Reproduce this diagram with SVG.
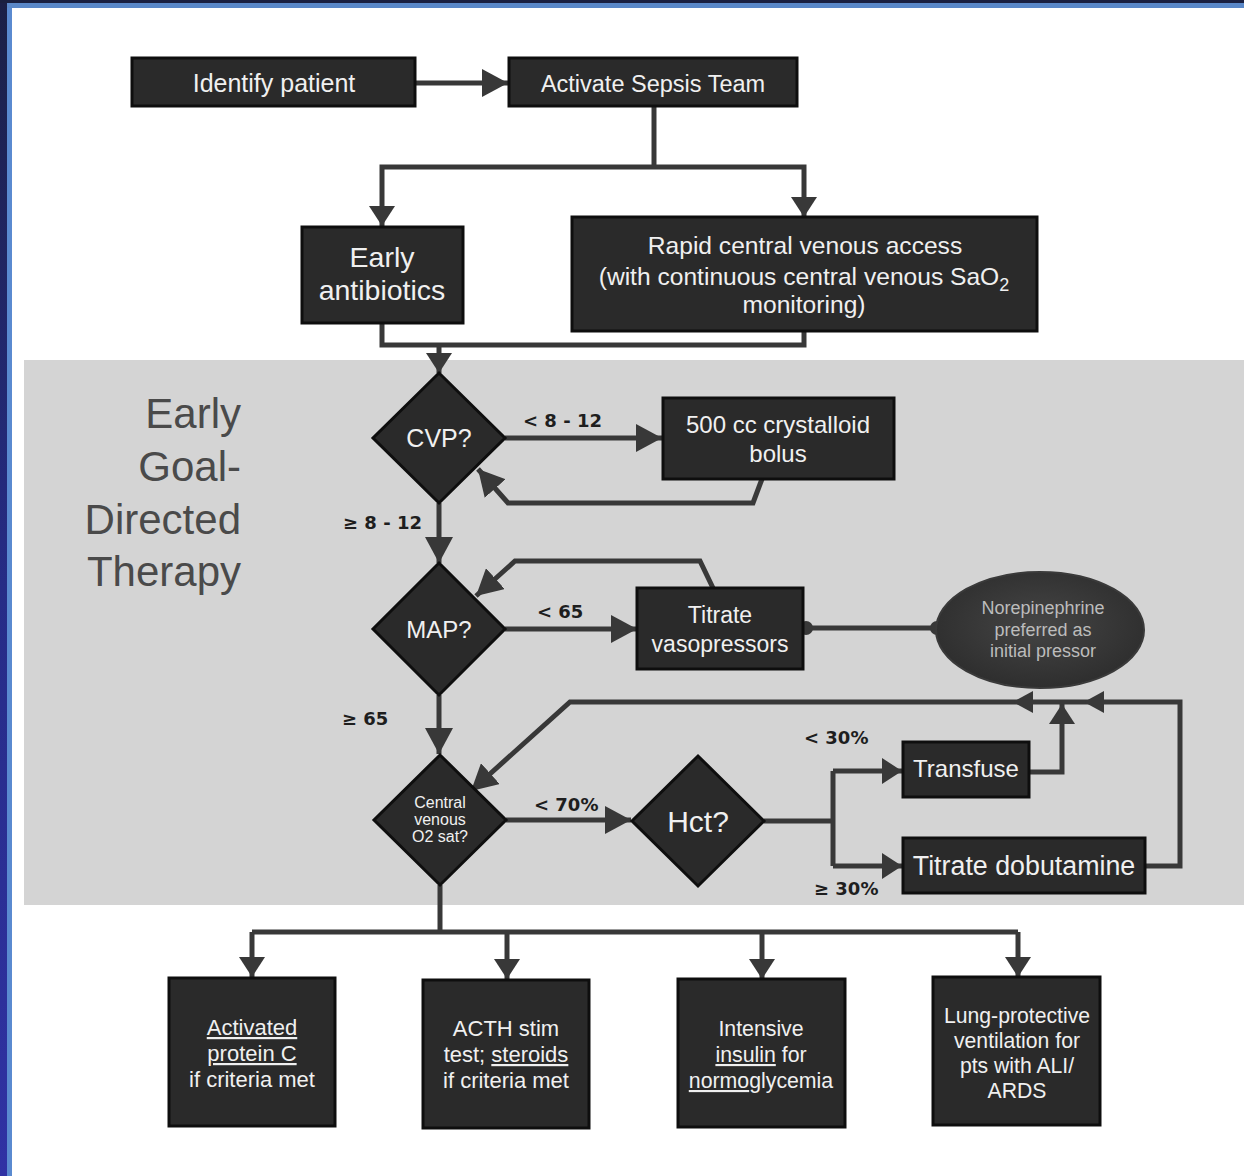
<svg xmlns="http://www.w3.org/2000/svg" width="1244" height="1176" viewBox="0 0 1244 1176">
  <defs>
    <linearGradient id="leftband" x1="0" y1="0" x2="0" y2="1">
      <stop offset="0" stop-color="#1b2046"/>
      <stop offset="0.5" stop-color="#262c86"/>
      <stop offset="1" stop-color="#3032a4"/>
    </linearGradient>
    <radialGradient id="ellfill" cx="0.5" cy="0.45" r="0.6">
      <stop offset="0" stop-color="#454545"/>
      <stop offset="1" stop-color="#2c2c2c"/>
    </radialGradient>
    <marker id="ah" markerUnits="userSpaceOnUse" markerWidth="28" markerHeight="28" viewBox="0 0 28 28" refX="26" refY="14" orient="auto">
      <path d="M0,0 L26,14 L0,28 z" fill="#383838"/>
    </marker>
    <marker id="ah2" markerUnits="userSpaceOnUse" markerWidth="28" markerHeight="28" viewBox="0 0 28 28" refX="20" refY="14" orient="auto">
      <path d="M0,1 L20,14 L0,27 z" fill="#383838"/>
    </marker>
    <style>
      .box { fill:#2a2a2a; stroke:#0e0e0e; stroke-width:3; }
      .dia { fill:#2a2a2a; stroke:#0e0e0e; stroke-width:3; }
      .t { font-family:"Liberation Sans", Arial, sans-serif; fill:#f0f0f0; text-anchor:middle; }
      .lbl { font-family:"DejaVu Sans", Verdana, sans-serif; font-weight:bold; fill:#1e1e1e; font-size:18px; }
      .conn { fill:none; stroke:#383838; stroke-width:5; stroke-linejoin:miter; }
      .arr { marker-end:url(#ah); }
      .arr2 { marker-end:url(#ah2); }
      .head { fill:#383838; }
      .side { font-family:"Liberation Sans", Arial, sans-serif; fill:#4a4a4a; font-size:42px; text-anchor:end; }
      .u { text-decoration:underline; }
      .ell { fill:#bcbcbc; }
    </style>
  </defs>

  <!-- background and frame -->
  <rect x="0" y="0" width="1244" height="1176" fill="#ffffff"/>
  <rect x="24" y="360" width="1220" height="545" fill="#d4d4d4"/>
  <rect x="0" y="0" width="7" height="1176" fill="url(#leftband)"/>
  <rect x="7" y="3" width="5" height="1173" fill="#5a8ad0"/>
  <rect x="0" y="0" width="1244" height="3" fill="#1a2040"/>
  <rect x="7" y="3" width="1237" height="5" fill="#5a88c8"/>

  <!-- side title -->
  <g id="title">
    <text class="side" x="241" y="428">Early</text>
    <text class="side" x="241" y="481">Goal-</text>
    <text class="side" x="241" y="534">Directed</text>
    <text class="side" x="241" y="586">Therapy</text>
  </g>

  <!-- connectors -->
  <g id="connectors">
    <path class="conn arr" d="M415,83 H508"/>
    <path class="conn" d="M654,106 V167"/>
    <path class="conn arr2" d="M654,167 H382 V226"/>
    <path class="conn arr2" d="M654,167 H804 V217"/>
    <path class="conn" d="M382,323 V345 H804 V332"/>
    <path class="conn arr2" d="M439,345 V373"/>
    <path class="conn arr" d="M505,438 H662"/>
    <path class="conn arr" d="M762,479 L753,503 H508 L478,469"/>
    <path class="conn arr" d="M439,503 V563"/>
    <path class="conn arr" d="M505,629 H637"/>
    <path class="conn arr" d="M713,588 L700,561 H515 L476,596"/>
    <path class="conn" d="M803,628 H937"/>
    <circle class="head" cx="806" cy="628" r="7"/>
    <circle class="head" cx="937" cy="628" r="7"/>
    <path class="conn arr" d="M439,695 V754"/>
    <path class="conn arr" d="M506,820 H631"/>
    <path class="conn" d="M764,821 H833"/>
    <path class="conn" d="M833,771 V866"/>
    <path class="conn arr2" d="M833,771 H902"/>
    <path class="conn arr2" d="M833,866 H902"/>
    <path class="conn arr2" d="M1029,772 H1062 V704"/>
    <path class="conn arr" d="M1145,866 H1180 V702 H570 L471,791"/>
    <path class="head" d="M1084,702 L1104,691 L1104,713 z"/>
    <path class="head" d="M1013,702 L1033,691 L1033,713 z"/>
    <path class="conn" d="M440,885 V932"/>
    <path class="conn" d="M252,932 H1018"/>
    <path class="conn arr2" d="M252,932 V977"/>
    <path class="conn arr2" d="M507,932 V979"/>
    <path class="conn arr2" d="M762,932 V979"/>
    <path class="conn arr2" d="M1018,932 V977"/>
  </g>

  <!-- nodes -->
  <g id="identify">
    <rect class="box" x="132" y="58" width="283" height="48"/>
    <text class="t" x="274" y="92" font-size="25">Identify patient</text>
  </g>
  <g id="activate">
    <rect class="box" x="509" y="58" width="288" height="48"/>
    <text class="t" x="653" y="92" font-size="23.5">Activate Sepsis Team</text>
  </g>
  <g id="antibiotics">
    <rect class="box" x="302" y="227" width="161" height="96"/>
    <text class="t" x="382" y="267" font-size="28.5">Early</text>
    <text class="t" x="382" y="300" font-size="28.5">antibiotics</text>
  </g>
  <g id="cvaccess">
    <rect class="box" x="572" y="217" width="465" height="114"/>
    <text class="t" x="805" y="254" font-size="24.6">Rapid central venous access</text>
    <text class="t" x="804" y="285" font-size="24.6">(with continuous central venous SaO<tspan font-size="18" dy="6">2</tspan></text>
    <text class="t" x="804" y="313" font-size="24.6">monitoring)</text>
  </g>
  <g id="cvp">
    <polygon class="dia" points="439,373 505,438 439,503 373,438"/>
    <text class="t" x="439" y="447" font-size="25">CVP?</text>
  </g>
  <g id="bolus">
    <rect class="box" x="663" y="398" width="231" height="81"/>
    <text class="t" x="778" y="433" font-size="24">500 cc crystalloid</text>
    <text class="t" x="778" y="462" font-size="24">bolus</text>
  </g>
  <g id="map">
    <polygon class="dia" points="439,563 505,629 439,695 373,629"/>
    <text class="t" x="439" y="638" font-size="24">MAP?</text>
  </g>
  <g id="vasopressors">
    <rect class="box" x="637" y="588" width="166" height="81"/>
    <text class="t" x="720" y="623" font-size="23">Titrate</text>
    <text class="t" x="720" y="652" font-size="23">vasopressors</text>
  </g>
  <g id="norepinephrine">
    <ellipse cx="1040" cy="630" rx="104" ry="58" fill="url(#ellfill)" stroke="#3a3a3a" stroke-width="2"/>
    <text class="t ell" x="1043" y="614" font-size="18" style="fill:#bcbcbc">Norepinephrine</text>
    <text class="t ell" x="1043" y="636" font-size="18" style="fill:#bcbcbc">preferred as</text>
    <text class="t ell" x="1043" y="657" font-size="18" style="fill:#bcbcbc">initial pressor</text>
  </g>
  <g id="svo2">
    <polygon class="dia" points="440,755 506,820 440,885 374,820"/>
    <text class="t" x="440" y="808" font-size="16">Central</text>
    <text class="t" x="440" y="825" font-size="16">venous</text>
    <text class="t" x="440" y="842" font-size="16">O2 sat?</text>
  </g>
  <g id="hct">
    <polygon class="dia" points="698,756 764,821 698,886 632,821"/>
    <text class="t" x="698" y="832" font-size="30">Hct?</text>
  </g>
  <g id="transfuse">
    <rect class="box" x="903" y="742" width="126" height="55"/>
    <text class="t" x="966" y="777" font-size="24">Transfuse</text>
  </g>
  <g id="dobutamine">
    <rect class="box" x="903" y="838" width="242" height="55"/>
    <text class="t" x="1024" y="875" font-size="26.8">Titrate dobutamine</text>
  </g>
  <g id="proteinc">
    <rect class="box" x="169" y="978" width="166" height="148"/>
    <text class="t" x="252" y="1035" font-size="22"><tspan class="u">Activated</tspan></text>
    <text class="t" x="252" y="1061" font-size="22"><tspan class="u">protein C</tspan></text>
    <text class="t" x="252" y="1087" font-size="22">if criteria met</text>
  </g>
  <g id="acth">
    <rect class="box" x="423" y="980" width="166" height="148"/>
    <text class="t" x="506" y="1036" font-size="22">ACTH stim</text>
    <text class="t" x="506" y="1062" font-size="22">test; <tspan class="u">steroids</tspan></text>
    <text class="t" x="506" y="1088" font-size="22">if criteria met</text>
  </g>
  <g id="insulin">
    <rect class="box" x="678" y="979" width="167" height="148"/>
    <text class="t" x="761" y="1036" font-size="21.3">Intensive</text>
    <text class="t" x="761" y="1062" font-size="21.3"><tspan class="u">insulin</tspan> for</text>
    <text class="t" x="761" y="1088" font-size="21.3"><tspan class="u">normo</tspan>glycemia</text>
  </g>
  <g id="ventilation">
    <rect class="box" x="933" y="977" width="167" height="148"/>
    <text class="t" x="1017" y="1023" font-size="21.2">Lung-protective</text>
    <text class="t" x="1017" y="1048" font-size="21.2">ventilation for</text>
    <text class="t" x="1017" y="1073" font-size="21.2">pts with ALI/</text>
    <text class="t" x="1017" y="1098" font-size="21.2">ARDS</text>
  </g>

  <!-- edge labels -->
  <g id="labels">
    <text class="lbl" x="523" y="427">&lt; 8 - 12</text>
    <text class="lbl" x="343" y="529">≥ 8 - 12</text>
    <text class="lbl" x="537" y="618">&lt; 65</text>
    <text class="lbl" x="342" y="725">≥ 65</text>
    <text class="lbl" x="534" y="811" font-size="19">&lt; 70%</text>
    <text class="lbl" x="804" y="744" font-size="19">&lt; 30%</text>
    <text class="lbl" x="814" y="895" font-size="19">≥ 30%</text>
  </g>
</svg>
